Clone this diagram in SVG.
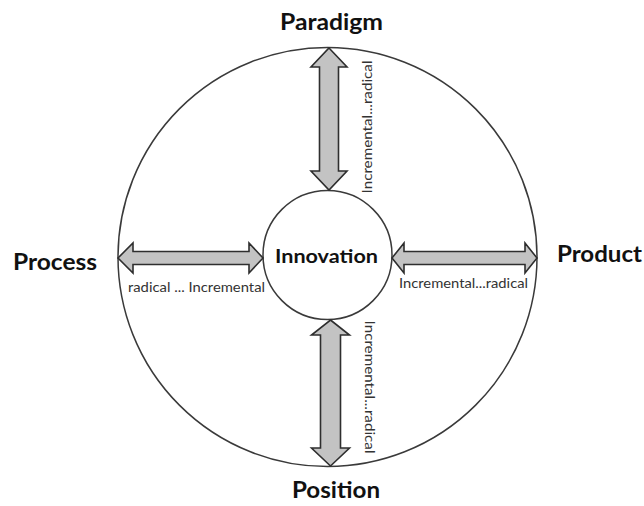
<svg xmlns="http://www.w3.org/2000/svg" width="644" height="506" viewBox="0 0 644 506">
<style>
.ring{fill:none;stroke:#3a3a3a;stroke-width:1.5}
.arrow{fill:#c3c3c3;stroke:#2e2e2e;stroke-width:1.6;stroke-linejoin:miter}
.big{font-family:Lato,"Open Sans","Liberation Sans",sans-serif;font-weight:bold;font-size:22px;fill:#111;text-anchor:middle}
.mid{font-family:Lato,"Open Sans","Liberation Sans",sans-serif;font-weight:bold;font-size:19px;fill:#111;text-anchor:middle}
.small{font-family:Lato,"Open Sans","Liberation Sans",sans-serif;font-size:12.5px;fill:#333;text-anchor:middle}
</style>
<rect width="644" height="506" fill="#fff"/>
<g id="outer"><circle class="ring" cx="327.5" cy="257" r="209.5"/></g>
<g id="innovation">
<circle class="ring" cx="327.5" cy="255" r="64.5" fill="#fff"/>
<text class="mid" x="326.5" y="263" textLength="103" lengthAdjust="spacingAndGlyphs">Innovation</text>
</g>
<g id="connectors">
<polygon class="arrow" points="329,48 347,67 338.5,67 338.5,171 347,171 329,190 311,171 319.5,171 319.5,67 311,67"/>
<polygon class="arrow" points="330.5,320 349.5,335 340.5,335 340.5,448 349.5,448 330.5,466 311.5,448 320.5,448 320.5,335 311.5,335"/>
<polygon class="arrow" points="118,258 133,243 133,251.5 249,251.5 249,243 263,258 249,273 249,264.5 133,264.5 133,273"/>
<polygon class="arrow" points="392,258 404,243 404,251.5 525,251.5 525,243 537,258 525,273 525,264.5 404,264.5 404,273"/>
<text class="small" transform="translate(372,127) rotate(-90)" textLength="133" lengthAdjust="spacingAndGlyphs">Incremental...radical</text>
<text class="small" transform="translate(365,387) rotate(90)" textLength="133" lengthAdjust="spacingAndGlyphs">Incremental...radical</text>
<text class="small" x="196.5" y="292" textLength="137" lengthAdjust="spacingAndGlyphs">radical ... Incremental</text>
<text class="small" x="463.5" y="288" textLength="129" lengthAdjust="spacingAndGlyphs">Incremental...radical</text>
</g>
<g id="paradigm"><text class="big" x="331.5" y="30" textLength="103" lengthAdjust="spacingAndGlyphs">Paradigm</text></g>
<g id="process"><text class="big" x="55" y="270" textLength="84" lengthAdjust="spacingAndGlyphs">Process</text></g>
<g id="product"><text class="big" x="599.5" y="262" textLength="85" lengthAdjust="spacingAndGlyphs">Product</text></g>
<g id="position"><text class="big" x="336" y="498" textLength="88" lengthAdjust="spacingAndGlyphs">Position</text></g>
</svg>
